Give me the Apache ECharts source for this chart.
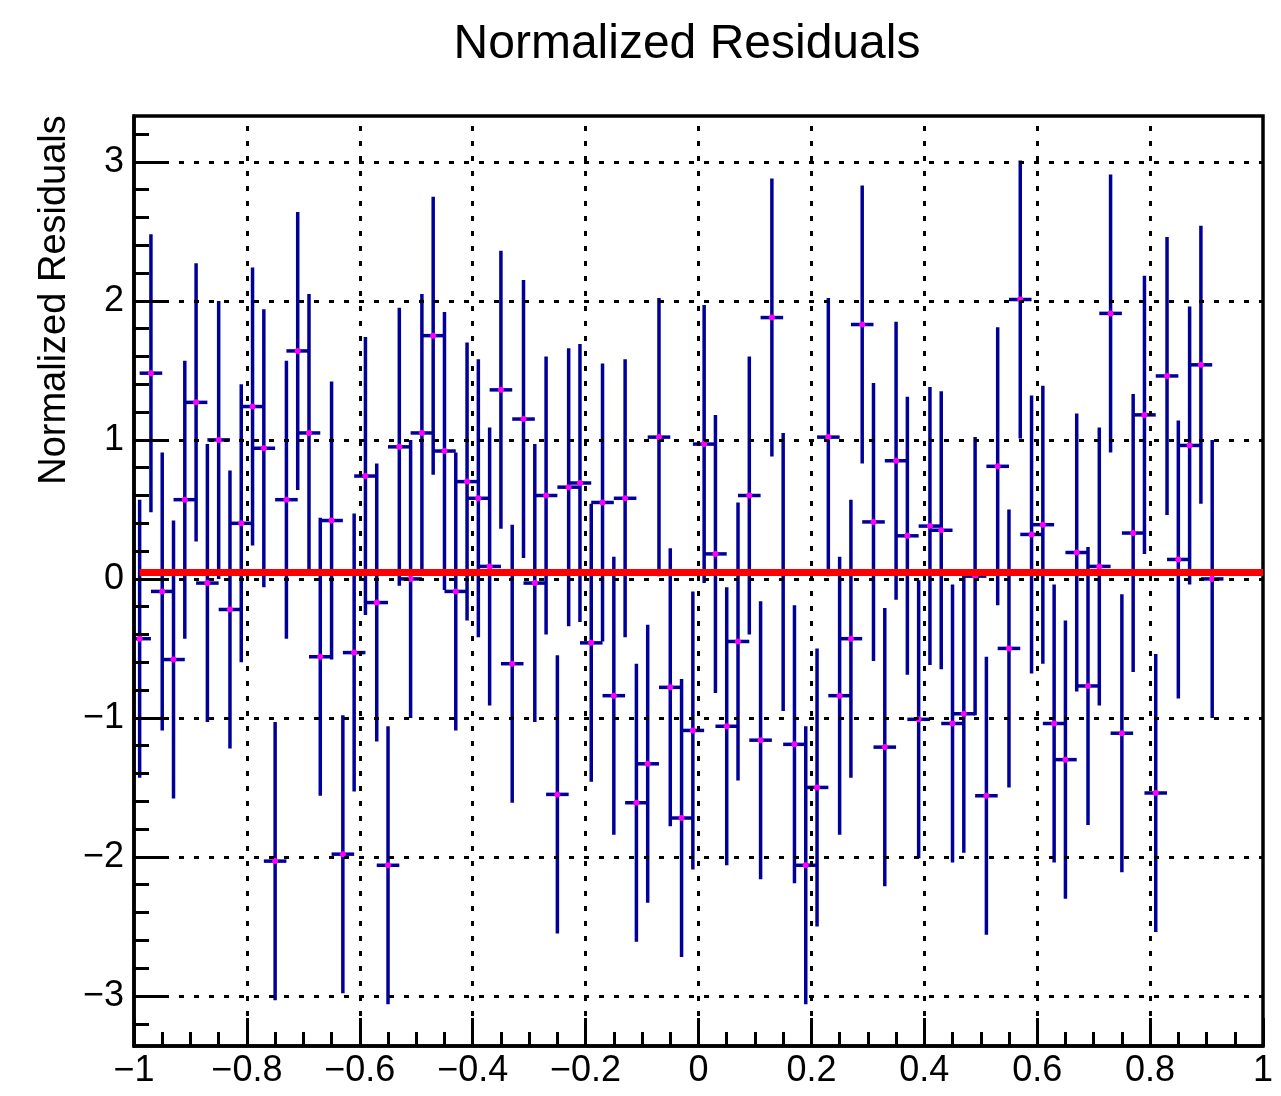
<!DOCTYPE html>
<html>
<head>
<meta charset="utf-8">
<script src="https://cdn.jsdelivr.net/npm/echarts@6/dist/echarts.min.js"></script>
<style>
  html, body { margin: 0; padding: 0; background: #fff; }
  #chart { width: 1281px; height: 1096px; }
</style>
</head>
<body>
<div id="chart"></div>
<script>
// bin centres
const xValues = [
  -0.99, -0.97, -0.95, -0.93, -0.91, -0.89, -0.87, -0.85, -0.83, -0.81,
  -0.79, -0.77, -0.75, -0.73, -0.71, -0.69, -0.67, -0.65, -0.63, -0.61,
  -0.59, -0.57, -0.55, -0.53, -0.51, -0.49, -0.47, -0.45, -0.43, -0.41,
  -0.39, -0.37, -0.35, -0.33, -0.31, -0.29, -0.27, -0.25, -0.23, -0.21,
  -0.19, -0.17, -0.15, -0.13, -0.11, -0.09, -0.07, -0.05, -0.03, -0.01,
  0.01, 0.03, 0.05, 0.07, 0.09, 0.11, 0.13, 0.15, 0.17, 0.19,
  0.21, 0.23, 0.25, 0.27, 0.29, 0.31, 0.33, 0.35, 0.37, 0.39,
  0.41, 0.43, 0.45, 0.47, 0.49, 0.51, 0.53, 0.55, 0.57, 0.59,
  0.61, 0.63, 0.65, 0.67, 0.69, 0.71, 0.73, 0.75, 0.77, 0.79,
  0.81, 0.83, 0.85, 0.87, 0.89, 0.91
]

// normalized residual in each bin
const residuals = [
  -0.43, 1.48, -0.09, -0.58, 0.57, 1.27, -0.03, 1.00, -0.22, 0.40,
  1.24, 0.94, -2.03, 0.57, 1.64, 1.05, -0.56, 0.42, -1.98, -0.53,
  0.74, -0.17, -2.06, 0.95, 0.00, 1.05, 1.75, 0.92, -0.09, 0.70,
  0.58, 0.09, 1.36, -0.61, 1.15, -0.03, 0.60, -1.55, 0.66, 0.69,
  -0.46, 0.55, -0.84, 0.58, -1.61, -1.33, 1.02, -0.78, -1.72, -1.09,
  0.97, 0.18, -1.06, -0.45, 0.60, -1.16, 1.88, 0.05, -1.19, -2.06,
  -1.50, 1.02, -0.84, -0.43, 1.83, 0.41, -1.21, 0.85, 0.31, -1.01,
  0.38, 0.35, -1.04, -0.97, 0.02, -1.56, 0.81, -0.50, 2.01, 0.32,
  0.39, -1.04, -1.30, 0.19, -0.77, 0.09, 1.91, -1.11, 0.33, 1.18,
  -1.54, 1.46, 0.14, 0.96, 1.54, 0.00
]

const yErr = 1.0
const xErr = 0.02

// fitted constant
const fitX = [-0.99, 1.0]
const fitY = [0.047, 0.047]

const xGridLines = [-0.8, -0.6, -0.4, -0.2, 0, 0.2, 0.4, 0.6, 0.8]
const yTicks = [-3, -2, -1, 0, 1, 2, 3]
const yMinorTicks = [
  -3.2, -3.0, -2.8, -2.6, -2.4, -2.2, -2.0, -1.8, -1.6, -1.4, -1.2, -1.0,
  -0.8, -0.6, -0.4, -0.2, 0, 0.2, 0.4, 0.6, 0.8, 1.0, 1.2, 1.4, 1.6, 1.8,
  2.0, 2.2, 2.4, 2.6, 2.8, 3.0, 3.2
]

const FONT = '"Liberation Sans", Arial, Helvetica, sans-serif'
const minus = v => String(v).replace('-', '\u2212')
const tickLine = { color: '#000', width: 3 }

function renderErrorBar(params, api) {
  const x = api.value(0)
  const y = api.value(1)
  const top = api.coord([x, y + yErr])
  const bot = api.coord([x, y - yErr])
  const left = api.coord([x - xErr, y])
  const right = api.coord([x + xErr, y])
  const c = api.coord([x, y])
  const stroke = { stroke: '#000099', lineWidth: 3.5 }
  return {
    type: 'group',
    children: [
      { type: 'line', shape: { x1: top[0], y1: top[1], x2: bot[0], y2: bot[1] }, style: stroke },
      { type: 'line', shape: { x1: left[0], y1: left[1], x2: right[0], y2: right[1] }, style: stroke },
      { type: 'circle', shape: { cx: c[0], cy: c[1], r: 3 }, style: { fill: '#ff00ff' } }
    ]
  }
}

const chart = echarts.init(document.getElementById('chart'))

chart.setOption({
  animation: false,
  backgroundColor: '#fff',
  grid: {
    left: 134, right: 18, top: 116, bottom: 50,
    show: true, borderColor: '#000', borderWidth: 3.5
  },
  graphic: [
    {
      type: 'text', x: 687, y: 45, z: 100,
      style: {
        text: 'Normalized Residuals', font: '48px ' + FONT, fill: '#000',
        align: 'center', verticalAlign: 'middle', textAlign: 'center', textVerticalAlign: 'middle'
      }
    },
    {
      type: 'text', x: 55, y: 300, rotation: Math.PI / 2, z: 100,
      style: {
        text: 'Normalized Residuals', font: '38px ' + FONT, fill: '#000',
        align: 'center', verticalAlign: 'middle', textAlign: 'center', textVerticalAlign: 'middle'
      }
    }
  ],
  xAxis: {
    type: 'value', min: -1, max: 1, interval: 0.2, position: 'bottom', z: 10,
    axisLine: { show: true, onZero: false, lineStyle: { color: '#000', width: 3.5 } },
    axisTick: { show: true, inside: true, length: 28, lineStyle: tickLine },
    minorTick: { show: true, splitNumber: 4, length: 14, lineStyle: tickLine },
    axisLabel: {
      formatter: minus, fontSize: 36, fontFamily: FONT, color: '#000', margin: 7,
      showMinLabel: true, showMaxLabel: true
    },
    splitLine: { show: false }
  },
  yAxis: [
    {
      type: 'value', min: -3.36, max: 3.33, position: 'left', z: 10,
      axisLine: { show: true, onZero: false, lineStyle: { color: '#000', width: 3.5 } },
      axisTick: { show: true, inside: true, length: 30, customValues: yTicks, lineStyle: tickLine },
      axisLabel: { customValues: yTicks, formatter: minus, fontSize: 36, fontFamily: FONT, color: '#000', margin: 10 },
      splitLine: { show: false }
    },
    {
      type: 'value', min: -3.36, max: 3.33, position: 'left', z: 10,
      axisLine: { show: false, onZero: false },
      axisTick: { show: true, inside: true, length: 15, customValues: yMinorTicks, lineStyle: tickLine },
      axisLabel: { show: false },
      splitLine: { show: false }
    }
  ],
  series: [
    {
      name: 'grid', type: 'line', data: [], z: 1, silent: true,
      markLine: {
        silent: true, symbol: ['none', 'none'], label: { show: false },
        lineStyle: { color: '#000', width: 3, type: [5, 10] },
        emphasis: { disabled: true },
        data: xGridLines.map(v => ({ xAxis: v })).concat(yTicks.map(v => ({ yAxis: v })))
      }
    },
    {
      name: 'residuals', type: 'custom', z: 3, clip: true,
      renderItem: renderErrorBar,
      data: xValues.map((x, i) => [x, residuals[i]])
    },
    {
      name: 'fit', type: 'line', z: 5, showSymbol: false, symbol: 'none',
      lineStyle: { color: '#ff0000', width: 7 },
      data: fitX.map((x, i) => [x, fitY[i]])
    }
  ]
})
</script>
</body>
</html>
